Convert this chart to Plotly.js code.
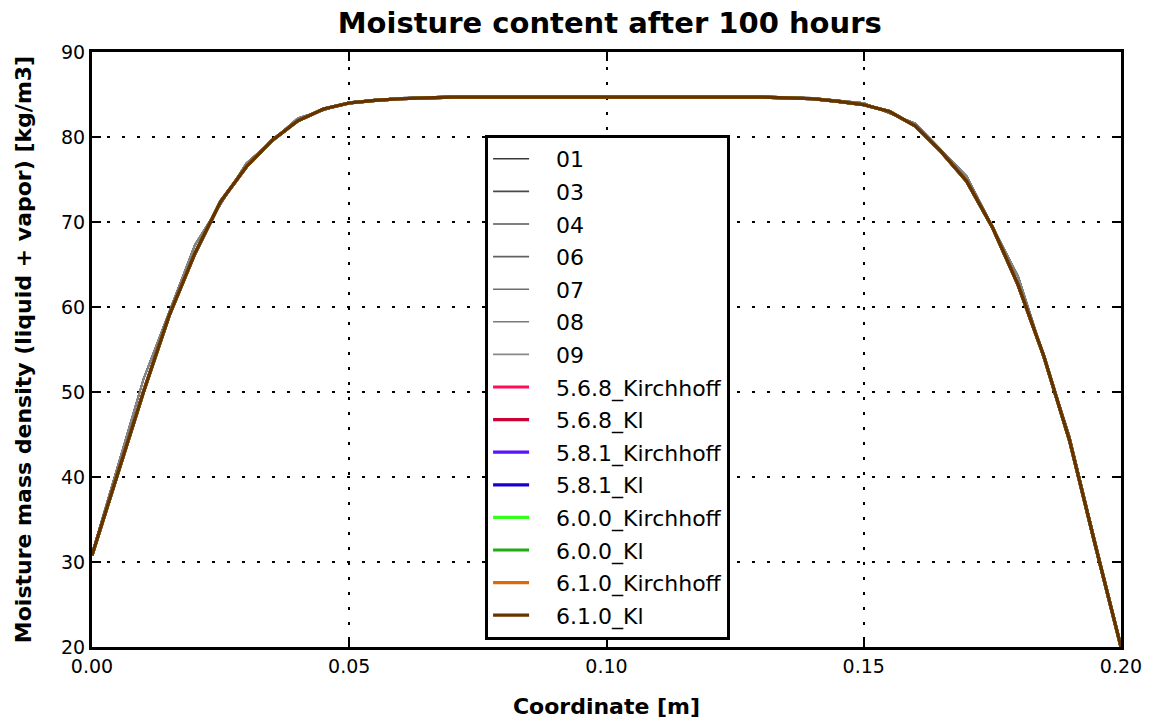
<!DOCTYPE html>
<html>
<head>
<meta charset="utf-8">
<script src="https://cdn.plot.ly/plotly-3.0.1.min.js"></script>
<style>html,body{margin:0;padding:0;background:#fff;}#chart{width:1157px;height:723px;}</style>
</head>
<body>
<div id="chart"></div>
<script>
// Old reference series (coarse grid, 0.01 m)
const grayNames = ["01", "03", "04", "06", "07", "08", "09"];
const grayColors = ["#3a3a3a", "#4a4a4a", "#555555", "#606060", "#6c6c6c", "#7a7a7a", "#888888"];
const grayX = [0.00, 0.01, 0.02, 0.03, 0.04, 0.05, 0.06, 0.07, 0.08, 0.09, 0.10, 0.11, 0.12, 0.13, 0.14, 0.15, 0.16, 0.17, 0.18, 0.19, 0.20];
const grayY = [31.0, 51.5, 67.3, 76.9, 82.2, 84.1, 84.6, 84.7, 84.7, 84.7, 84.7, 84.7, 84.7, 84.7, 84.6, 84.0, 81.6, 75.4, 63.6, 44.8, 20.0];

// Newer versions (finer grid, 0.005 m)
const colorNames = ["5.6.8_Kirchhoff", "5.6.8_Kl", "5.8.1_Kirchhoff", "5.8.1_Kl", "6.0.0_Kirchhoff", "6.0.0_Kl", "6.1.0_Kirchhoff", "6.1.0_Kl"];
const colorColors = ["#ff0d57", "#cc0033", "#5a11ff", "#1a00cc", "#33ff1a", "#22aa11", "#dd6a00", "#663300"];
const colorX = [0.000, 0.005, 0.010, 0.015, 0.020, 0.025, 0.030, 0.035, 0.040, 0.045, 0.050, 0.055, 0.060, 0.065, 0.070, 0.080, 0.090, 0.100, 0.110, 0.120, 0.130, 0.135, 0.140, 0.145, 0.150, 0.155, 0.160, 0.165, 0.170, 0.175, 0.180, 0.185, 0.190, 0.195, 0.200];
const colorY = [30.8, 40.4, 50.0, 59.0, 66.3, 72.4, 76.5, 79.6, 81.9, 83.3, 84.0, 84.3, 84.5, 84.6, 84.7, 84.7, 84.7, 84.7, 84.7, 84.7, 84.7, 84.6, 84.5, 84.2, 83.8, 83.0, 81.3, 78.3, 74.8, 69.4, 62.6, 54.2, 44.3, 32.0, 20.0];

const xTicks = [0.00, 0.05, 0.10, 0.15, 0.20];
const yTicks = [20, 30, 40, 50, 60, 70, 80, 90];

// visual gap between legend sample line and its label
const legendPad = '\u2002\u2002';

const traces = [];
grayNames.forEach((n, i) => {
  traces.push({x: grayX, y: grayY, name: legendPad + n, type: 'scatter', mode: 'lines',
    line: {color: grayColors[i], width: 1.6}, legendgroup: 'g' + i});
});
colorNames.forEach((n, i) => {
  traces.push({x: colorX, y: colorY, name: legendPad + n, type: 'scatter', mode: 'lines',
    line: {color: colorColors[i], width: 3.2}, legendgroup: 'c' + i});
});

const fontFam = 'DejaVu Sans, sans-serif';
const axisCommon = {
  showline: true, linecolor: '#000', linewidth: 3, mirror: 'allticks',
  ticks: 'inside', ticklen: 9, tickwidth: 2, tickcolor: '#000',
  showgrid: true, gridcolor: '#000', gridwidth: 2, griddash: '3px,12px',
  zeroline: false, tickfont: {family: fontFam, size: 19, color: '#000'}
};

const layout = {
  width: 1157, height: 723,
  margin: {l: 92, r: 36, t: 52, b: 76},
  paper_bgcolor: '#fff', plot_bgcolor: '#fff',
  title: {text: 'Moisture content after 100 hours', x: 0.527, xanchor: 'center', y: 0.968, yanchor: 'middle',
    font: {family: fontFam, size: 29, color: '#000', weight: 'bold'}},
  xaxis: Object.assign({}, axisCommon, {range: [0, 0.2], tickvals: xTicks, ticktext: xTicks.map(v => v.toFixed(2)),
    title: {text: '<b>Coordinate [m]</b>', font: {family: fontFam, size: 22, color: '#000'}, standoff: 23}}),
  yaxis: Object.assign({}, axisCommon, {range: [20, 90], tickvals: yTicks,
    title: {text: '<b>Moisture mass density (liquid + vapor) [kg/m3]</b>', font: {family: fontFam, size: 22, color: '#000'}, standoff: 24}}),
  showlegend: true,
  legend: {x: 0.382, y: 0.8605, xanchor: 'left', yanchor: 'top', bgcolor: '#fff',
    bordercolor: '#000', borderwidth: 3, font: {family: fontFam, size: 22, color: '#000'},
    tracegroupgap: 1, itemwidth: 36}
};

Plotly.newPlot('chart', traces, layout, {displayModeBar: false, staticPlot: true});
</script>
</body>
</html>
